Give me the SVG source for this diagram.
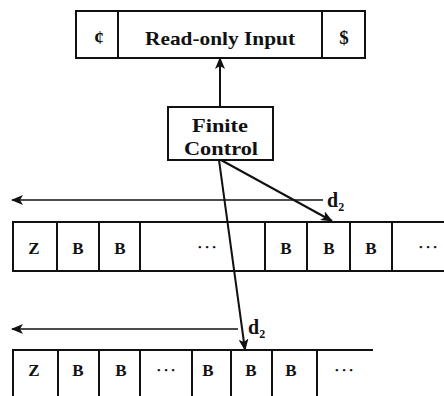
<svg xmlns="http://www.w3.org/2000/svg" width="444" height="396" viewBox="0 0 444 396">
  <defs>
    <marker id="head" viewBox="0 0 12 10" refX="11" refY="5" markerWidth="12" markerHeight="10" markerUnits="userSpaceOnUse" orient="auto">
      <path d="M0,0 L12,5 L0,10 L3,5 Z" fill="#111"/>
    </marker>
    <style>
      .ln { stroke: #111; stroke-width: 2; fill: none; }
      .thin { stroke: #111; stroke-width: 1.6; fill: none; }
      .box { stroke: #111; stroke-width: 2; fill: #fff; }
      .lbl { font-family: "Liberation Serif", "DejaVu Serif", serif; font-weight: bold; fill: #111; text-anchor: middle; }
      .big { font-size: 19px; }
      .cell { font-size: 17px; }
      .dots { font-size: 9px; letter-spacing: 4px; }
      .d { font-family: "Liberation Serif", serif; font-weight: bold; fill: #111; font-size: 20px; }
      .sub { font-size: 12px; }
    </style>
  </defs>

  <!-- input tape -->
  <g id="input">
    <rect class="box" x="76" y="11" width="289" height="47"/>
    <line class="ln" x1="118" y1="11" x2="118" y2="58"/>
    <line class="ln" x1="322" y1="11" x2="322" y2="58"/>
    <text class="lbl big" x="99" y="44">¢</text>
    <text class="lbl big" x="220" y="45" textLength="150" lengthAdjust="spacingAndGlyphs">Read-only Input</text>
    <text class="lbl big" x="344" y="44">$</text>
  </g>

  <!-- finite control -->
  <g id="control">
    <rect class="box" x="168" y="107" width="105" height="53"/>
    <text class="lbl big" x="220" y="132" textLength="56" lengthAdjust="spacingAndGlyphs">Finite</text>
    <text class="lbl big" x="221" y="155" textLength="74" lengthAdjust="spacingAndGlyphs">Control</text>
  </g>

  <!-- first work tape -->
  <g id="tape1">
    <line class="ln" x1="12" y1="222" x2="444" y2="222"/>
    <line class="ln" x1="12" y1="271" x2="444" y2="271"/>
    <line class="ln" x1="13" y1="222" x2="13" y2="271"/>
    <line class="ln" x1="57" y1="222" x2="57" y2="271"/>
    <line class="ln" x1="99" y1="222" x2="99" y2="271"/>
    <line class="ln" x1="140" y1="222" x2="140" y2="271"/>
    <line class="ln" x1="265" y1="222" x2="265" y2="271"/>
    <line class="ln" x1="307" y1="222" x2="307" y2="271"/>
    <line class="ln" x1="350" y1="222" x2="350" y2="271"/>
    <line class="ln" x1="392" y1="222" x2="392" y2="271"/>
    <text class="lbl cell" x="34" y="254">Z</text>
    <text class="lbl cell" x="78" y="254">B</text>
    <text class="lbl cell" x="120" y="254">B</text>
    <text class="lbl dots" x="209" y="250">•••</text>
    <text class="lbl cell" x="286" y="254">B</text>
    <text class="lbl cell" x="329" y="254">B</text>
    <text class="lbl cell" x="371" y="254">B</text>
    <text class="lbl dots" x="430" y="250">•••</text>
  </g>

  <!-- second work tape -->
  <g id="tape2">
    <line class="ln" x1="12" y1="350" x2="373" y2="350"/>
    <line class="ln" x1="13" y1="350" x2="13" y2="396"/>
    <line class="ln" x1="58" y1="350" x2="58" y2="396"/>
    <line class="ln" x1="99" y1="350" x2="99" y2="396"/>
    <line class="ln" x1="140" y1="350" x2="140" y2="396"/>
    <line class="ln" x1="192" y1="350" x2="192" y2="396"/>
    <line class="ln" x1="231" y1="350" x2="231" y2="396"/>
    <line class="ln" x1="272" y1="350" x2="272" y2="396"/>
    <line class="ln" x1="317" y1="350" x2="317" y2="396"/>
    <text class="lbl cell" x="34" y="376">Z</text>
    <text class="lbl cell" x="78" y="376">B</text>
    <text class="lbl cell" x="121" y="376">B</text>
    <text class="lbl dots" x="168" y="373">•••</text>
    <text class="lbl cell" x="208" y="376">B</text>
    <text class="lbl cell" x="251" y="376">B</text>
    <text class="lbl cell" x="291" y="376">B</text>
    <text class="lbl dots" x="346" y="373">•••</text>
  </g>

  <!-- connectors -->
  <g id="connectors">
    <line class="ln" x1="220" y1="107" x2="220" y2="58" marker-end="url(#head)"/>
    <line class="ln" x1="221" y1="160" x2="332" y2="221" marker-end="url(#head)"/>
    <line class="ln" x1="219" y1="160" x2="245" y2="350" marker-end="url(#head)"/>
    <line class="thin" x1="323" y1="200" x2="12" y2="200" marker-end="url(#head)"/>
    <line class="thin" x1="238" y1="329" x2="12" y2="329" marker-end="url(#head)"/>
  </g>

  <!-- head distance labels -->
  <g id="labels">
    <text class="d" x="327" y="207">d<tspan class="sub" dy="4">2</tspan></text>
    <text class="d" x="248" y="334">d<tspan class="sub" dy="4">2</tspan></text>
  </g>
</svg>
